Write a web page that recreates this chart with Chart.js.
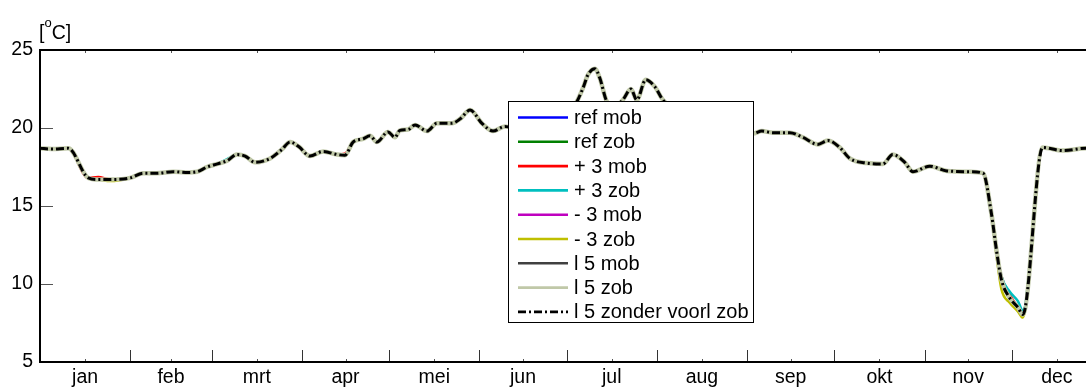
<!DOCTYPE html>
<html>
<head>
<meta charset="utf-8">
<script src="https://cdn.jsdelivr.net/npm/chart.js@4.4.0/dist/chart.umd.min.js"></script>
<style>
  html, body { margin: 0; padding: 0; overflow: hidden; background: #fff; }
  #wrap { width: 1112px; height: 387px; position: relative; }
</style>
</head>
<body>
<div id="wrap"><canvas id="c"></canvas></div>
<script>
// ==========================================
// DATA
// ==========================================
const monthLabels = ['jan', 'feb', 'mrt', 'apr', 'mei', 'jun', 'jul', 'aug', 'sep', 'okt', 'nov', 'dec'];
const monthStarts = [0, 31, 59, 90, 120, 151, 181, 212, 243, 273, 304, 334, 365];
const yTicks = [5, 10, 15, 20, 25];

// day of year
const days = [
  0, 4, 9.7, 16.6, 20, 24.1, 31, 35.5, 40, 45.8, 50, 54, 57.4, 61, 64.3, 67.7, 70.5, 73.9,
  79.1, 83, 86, 89, 92.8, 97.3, 102.1, 104.8, 107.6, 111, 113.4, 115.8, 119.6, 122, 123.7,
  126.5, 128.9, 133, 136.4, 141.6, 144.5, 147.8, 151.9, 155.7, 159.8, 165, 171.8, 178.7,
  183.9, 186.6, 188.3, 190.7, 192.4, 194.8, 197.6, 200.3, 203.1, 205.1, 208.2, 211.3, 214.1,
  219.9, 226.8, 233.6, 240.5, 245, 248.1, 251.9, 257.7, 262.2, 267.3, 270.8, 274.9, 278.3,
  284.2, 289.7, 293.1, 297.2, 300, 305.8, 311.7, 319.6, 324.1, 327, 328.7, 330.4, 333.3,
  336.1, 337.8, 344.6, 351.5, 359.4, 365
];

// shared curve (all variants lie on top of each other most of the year)
const tempBase = [
  18.7, 18.65, 18.7, 16.8, 16.7, 16.7, 16.8, 17.1, 17.1, 17.2, 17.15, 17.2, 17.5, 17.7, 17.9, 18.3, 18.2, 17.8,
  18.05, 18.6, 19.1, 18.8, 18.2, 18.5, 18.3, 18.25, 19.1, 19.3, 19.5, 19.1, 19.75, 19.4, 19.85,
  19.9, 20.2, 19.8, 20.3, 20.3, 20.6, 21.15, 20.3, 19.8, 20.1, 19.9, 20.3, 20.9,
  21.5, 22.55, 23.4, 23.8, 23.2, 21.7, 21.4, 21.8, 22.5, 21.8, 23.1, 22.65, 21.8,
  21.0, 20.4, 20.0, 19.8, 19.65, 19.8, 19.7, 19.7, 19.4, 18.95, 19.2, 18.75, 18.05,
  17.75, 17.7, 18.3, 17.8, 17.2, 17.55, 17.25, 17.2, 17.1, 14.5, 12.2, 10.3, 9.1,
  8.5, 8.05, 18.75, 18.55, 18.7, 18.65
];

// where a variant leaves the shared curve: day -> temperature
const plus3MobDev = { 20: 16.85, 104.8: 18.35, 330.4: 10.5, 333.3: 9.3 };
const plus3ZobDev = { 64.3: 18.0, 330.4: 10.5, 333.3: 9.5, 336.1: 8.9, 337.8: 8.3 };
const min3ZobDev = { 24.1: 16.6, 328.7: 11.9, 330.4: 9.7, 333.3: 8.8, 336.1: 8.25, 337.8: 7.85 };

const seriesLabels = ['ref mob', 'ref zob', '+ 3 mob', '+ 3 zob', '- 3 mob', '- 3 zob', 'l 5 mob', 'l 5 zob', 'l 5 zonder voorl zob'];
const seriesDevs = [{}, {}, plus3MobDev, plus3ZobDev, {}, min3ZobDev, {}, {}, {}];
const seriesColors = ['#0000ff', '#008000', '#ff0000', '#00bfbf', '#bf00bf', '#bfbf00', '#404040', '#c0c8a8', '#000000'];

// ==========================================
// STYLE
// ==========================================
const FONT = "'Liberation Sans', Arial, Helvetica, sans-serif";
const monthMid = monthLabels.map((m, i) => (monthStarts[i] + monthStarts[i + 1]) / 2);

const datasets = seriesLabels.map((label, i) => {
  const dev = seriesDevs[i];
  const last = i === seriesLabels.length - 1;
  return {
    label: label,
    data: days.map((d, k) => ({ x: d, y: d in dev ? dev[d] : tempBase[k] })),
    borderColor: seriesColors[i],
    borderWidth: last ? 3 : (i === 7 ? 4.5 : 2.6),
    borderDash: last ? [8, 3, 2, 3] : [],
    pointRadius: 0,
    fill: false,
    cubicInterpolationMode: 'monotone',
    order: seriesLabels.length - i, // last one drawn on top
  };
});

// frame, inward ticks, legend box and unit text
const framePlugin = {
  id: 'frame',
  afterDatasetsDraw(chart) {
    const { ctx, chartArea: a, scales: { x, y } } = chart;
    ctx.save();
    const line = (x1, y1, x2, y2) => { ctx.beginPath(); ctx.moveTo(x1, y1); ctx.lineTo(x2, y2); ctx.stroke(); };

    // y ticks (inward)
    ctx.strokeStyle = '#555';
    ctx.lineWidth = 1;
    yTicks.forEach(v => {
      const py = Math.round(y.getPixelForValue(v)) + 0.5;
      line(a.left, py, a.left + 13, py);
      line(a.right, py, a.right - 13, py);
    });
    // short ticks at month centers
    monthMid.forEach(v => {
      const px = Math.round(x.getPixelForValue(v)) + 0.5;
      line(px, a.bottom, px, a.bottom - 3);
      line(px, a.top, px, a.top + 3);
    });
    // month boundaries
    ctx.strokeStyle = '#333';
    monthStarts.slice(1, -1).forEach(d => {
      const px = Math.round(x.getPixelForValue(d)) + 0.5;
      line(px, a.bottom, px, a.bottom - 12);
    });

    // box
    ctx.strokeStyle = '#000';
    ctx.lineWidth = 2;
    ctx.strokeRect(a.left, a.top, a.right - a.left, a.bottom - a.top);

    // legend
    const lx = 508, ly = 101, lw = 245, rowH = 24.3, firstRow = 117.5;
    const lh = 221;
    ctx.fillStyle = '#fff';
    ctx.fillRect(lx, ly, lw, lh);
    ctx.lineWidth = 1;
    ctx.strokeStyle = '#000';
    ctx.strokeRect(lx + 0.5, ly + 0.5, lw, lh);
    ctx.font = '20px ' + FONT;
    ctx.textBaseline = 'middle';
    ctx.textAlign = 'left';
    chart.data.datasets.forEach((ds, i) => {
      const ry = firstRow + i * rowH;
      ctx.strokeStyle = ds.borderColor;
      ctx.lineWidth = i === datasets.length - 1 ? 2.8 : 2.6;
      ctx.setLineDash(ds.borderDash);
      line(518, ry, 568, ry);
      ctx.setLineDash([]);
      ctx.fillStyle = '#000';
      ctx.fillText(ds.label, 574, ry + 1);
    });

    // unit
    ctx.fillStyle = '#000';
    ctx.textBaseline = 'alphabetic';
    ctx.font = '19.5px ' + FONT;
    ctx.fillText('[', 39, 39);
    let px = 39 + ctx.measureText('[').width;
    ctx.font = '13px ' + FONT;
    ctx.fillText('o', px, 27);
    px += ctx.measureText('o').width;
    ctx.font = '19.5px ' + FONT;
    ctx.fillText('C]', px, 39);
    ctx.restore();
  }
};

new Chart(document.getElementById('c'), {
  type: 'line',
  data: { datasets: datasets },
  options: {
    responsive: true,
    maintainAspectRatio: false,
    animation: false,
    layout: { padding: { top: 50, right: 10, left: 0, bottom: 0 } },
    plugins: { legend: { display: false }, tooltip: { enabled: false } },
    scales: {
      x: {
        type: 'linear',
        min: 0,
        max: 365,
        afterBuildTicks: s => { s.ticks = monthMid.map(v => ({ value: v })); },
        afterFit: s => { s.height = 25; },
        grid: { display: false, drawTicks: false },
        border: { display: false },
        ticks: {
          autoSkip: false,
          maxRotation: 0,
          padding: 4,
          color: '#000',
          font: { family: FONT, size: 19.5 },
          callback: (v, i) => monthLabels[i],
        },
      },
      y: {
        min: 5,
        max: 25,
        afterBuildTicks: s => { s.ticks = yTicks.map(v => ({ value: v })); },
        afterFit: s => { s.width = 40; },
        grid: { display: false, drawTicks: false },
        border: { display: false },
        ticks: { padding: 7, color: '#000', font: { family: FONT, size: 19.5 } },
      },
    },
  },
  plugins: [framePlugin],
});
</script>
</body>
</html>
